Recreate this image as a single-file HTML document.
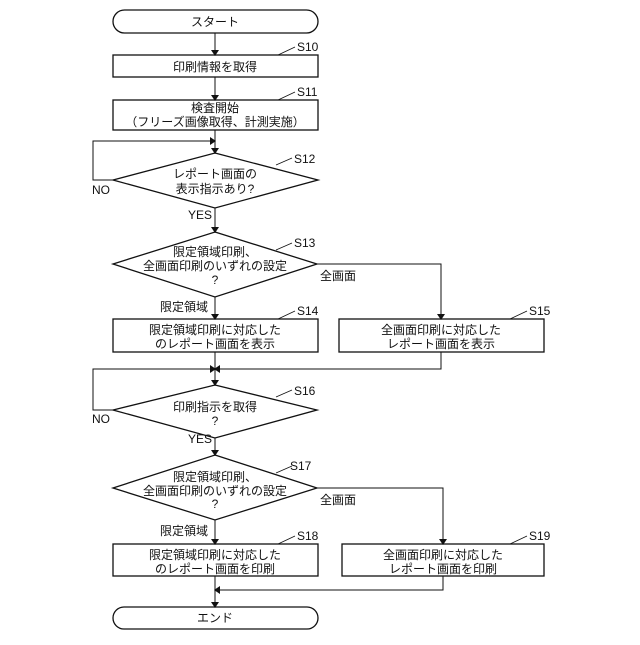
<!DOCTYPE html>
<html><head><meta charset="utf-8"><style>
html,body{margin:0;padding:0;background:#fff}
svg text{font-family:"Liberation Sans","Noto Sans CJK JP",sans-serif;font-size:12px;fill:#111}
</style></head><body>
<svg width="640" height="640" viewBox="0 0 640 640" xmlns="http://www.w3.org/2000/svg">
<defs><marker id="a" markerWidth="6" markerHeight="8" refX="5" refY="4" orient="auto" markerUnits="userSpaceOnUse"><path d="M0,0 L6,4 L0,8 z" fill="#111"/></marker></defs>
<g fill="none" stroke="#111" stroke-width="1.3">
<rect x="113" y="10" width="205" height="23" rx="11.5"/>
<rect x="113" y="55" width="205" height="22"/>
<rect x="113" y="100" width="205" height="30"/>
<polygon points="215,153 318,180 215,208 113,180"/>
<polygon points="215,232 317,264 215,297 113,264"/>
<rect x="113" y="319" width="205" height="33"/>
<rect x="339" y="319" width="205" height="33"/>
<polygon points="215,385 317,410 215,438 113,410"/>
<polygon points="215,455 317,488 215,520 113,488"/>
<rect x="113" y="544" width="205" height="32"/>
<rect x="342" y="544" width="202" height="32"/>
<rect x="113" y="607" width="205" height="22" rx="11"/>
</g>
<g fill="none" stroke="#111" stroke-width="1" marker-end="url(#a)">
<line x1="215" y1="33" x2="215" y2="55"/>
<line x1="215" y1="77" x2="215" y2="100"/>
<line x1="215" y1="130" x2="215" y2="153"/>
<polyline points="113,180 93,180 93,141 215,141"/>
<line x1="215" y1="208" x2="215" y2="232"/>
<line x1="215" y1="297" x2="215" y2="319"/>
<polyline points="317,264 441,264 441,319"/>
<line x1="215" y1="352" x2="215" y2="385"/>
<polyline points="441,352 441,369 215,369"/>
<polyline points="113,410 93,410 93,369 215,369"/>
<line x1="215" y1="438" x2="215" y2="455"/>
<line x1="215" y1="520" x2="215" y2="544"/>
<polyline points="317,488 443,488 443,544"/>
<line x1="215" y1="576" x2="215" y2="607"/>
<polyline points="443,576 443,590 215,590"/>
</g>
<g stroke="#111" stroke-width="0.8">
<line x1="278" y1="55" x2="295" y2="47"/>
<line x1="278" y1="100" x2="295" y2="92"/>
<line x1="276" y1="165" x2="292" y2="158"/>
<line x1="276" y1="250" x2="292" y2="243"/>
<line x1="278" y1="319" x2="295" y2="311"/>
<line x1="510" y1="319" x2="527" y2="311"/>
<line x1="276" y1="397" x2="292" y2="390"/>
<line x1="276" y1="473" x2="292" y2="466"/>
<line x1="278" y1="544" x2="295" y2="536"/>
<line x1="510" y1="544" x2="527" y2="536"/>
</g>
<g text-anchor="middle">
<text x="215" y="26">スタート</text>
<text x="215" y="71">印刷情報を取得</text>
<text x="215" y="112">検査開始</text>
<text x="215" y="126">（フリーズ画像取得、計測実施）</text>
<text x="215" y="178">レポート画面の</text>
<text x="215" y="193">表示指示あり?</text>
<text x="215" y="256">限定領域印刷、</text>
<text x="215" y="270">全画面印刷のいずれの設定</text>
<text x="215" y="284">?</text>
<text x="215" y="334">限定領域印刷に対応した</text>
<text x="215" y="348">のレポート画面を表示</text>
<text x="441" y="334">全画面印刷に対応した</text>
<text x="441" y="348">レポート画面を表示</text>
<text x="215" y="411">印刷指示を取得</text>
<text x="215" y="425">?</text>
<text x="215" y="481">限定領域印刷、</text>
<text x="215" y="495">全画面印刷のいずれの設定</text>
<text x="215" y="508">?</text>
<text x="215" y="559">限定領域印刷に対応した</text>
<text x="215" y="573">のレポート画面を印刷</text>
<text x="443" y="559">全画面印刷に対応した</text>
<text x="443" y="573">レポート画面を印刷</text>
<text x="215" y="622">エンド</text>
</g>
<text x="297" y="51">S10</text>
<text x="297" y="96">S11</text>
<text x="294" y="163">S12</text>
<text x="294" y="247">S13</text>
<text x="297" y="315">S14</text>
<text x="529" y="315">S15</text>
<text x="294" y="395">S16</text>
<text x="290" y="470">S17</text>
<text x="297" y="540">S18</text>
<text x="529" y="540">S19</text>
<text x="92" y="194">NO</text>
<text x="92" y="423">NO</text>
<text x="188" y="219">YES</text>
<text x="188" y="443">YES</text>
<text x="320" y="280">全画面</text>
<text x="320" y="504">全画面</text>
<text x="160" y="311">限定領域</text>
<text x="160" y="535">限定領域</text>
</svg>
</body></html>
